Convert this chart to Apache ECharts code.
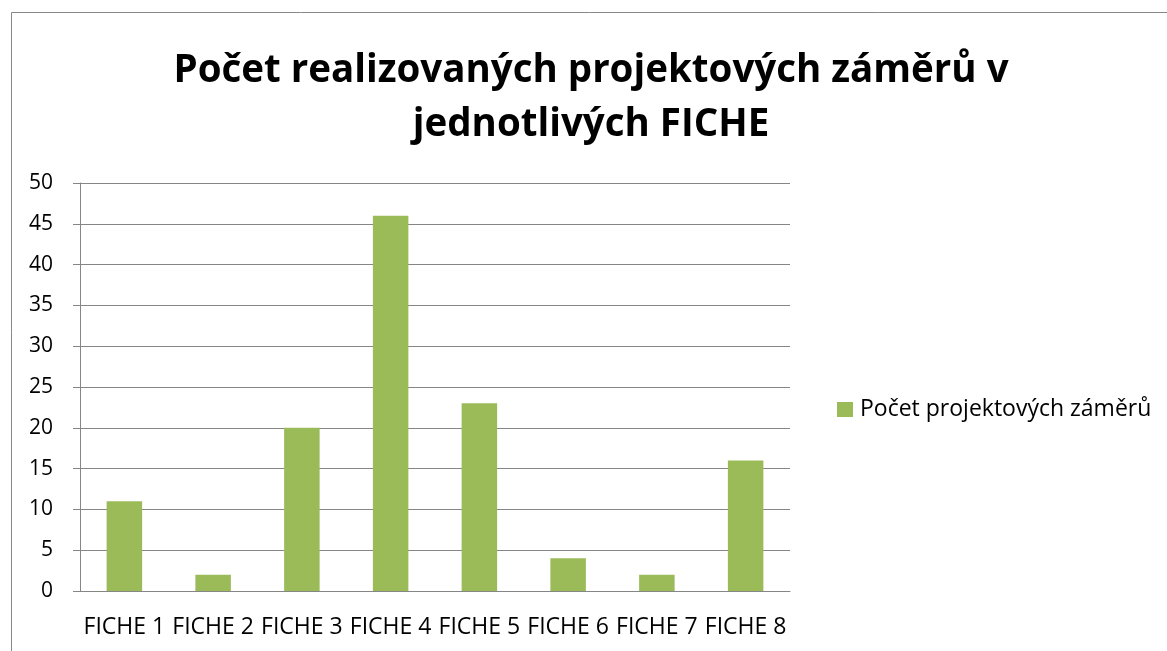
<!DOCTYPE html>
<html>
<head>
<meta charset="utf-8">
<script src="https://cdn.jsdelivr.net/npm/echarts@6/dist/echarts.min.js"></script>
<style>
  html, body { margin: 0; padding: 0; background: #fff; }
  #chart { width: 1167px; height: 651px; }
</style>
</head>
<body>
<div id="chart"></div>
<script>
// data
const categories = ['FICHE 1', 'FICHE 2', 'FICHE 3', 'FICHE 4', 'FICHE 5', 'FICHE 6', 'FICHE 7', 'FICHE 8']
const zamery = [11, 2, 20, 46, 23, 4, 2, 16]
const seriesName = 'Počet projektových záměrů'
const titleText = 'Počet realizovaných projektových záměrů v\njednotlivých FICHE'

const font = 'Open Sans'
const myChart = echarts.init(document.getElementById('chart'))
myChart.setOption({
  animation: false,
  backgroundColor: '#fff',
  graphic: [
    {
      type: 'rect',
      shape: { x: 11.5, y: 12.5, width: 1200, height: 700 },
      style: { fill: 'none', stroke: '#888', lineWidth: 1 }
    }
  ],
  title: {
    text: titleText,
    left: 586,
    top: 39,
    textAlign: 'center',
    textStyle: {
      fontFamily: font,
      fontWeight: 'bold',
      fontSize: 38.5,
      lineHeight: 54,
      color: '#000'
    }
  },
  legend: {
    data: [seriesName],
    left: 832,
    top: 393,
    itemWidth: 16,
    itemHeight: 15,
    icon: 'rect',
    textStyle: { fontFamily: font, fontSize: 23, color: '#000', padding: [0, 0, 0, 2] }
  },
  grid: {
    left: 80,
    right: 377,
    top: 183,
    bottom: 60
  },
  xAxis: {
    type: 'category',
    data: categories,
    axisLine: { lineStyle: { color: '#868686', width: 1 } },
    axisTick: { length: 7, lineStyle: { color: '#868686' } },
    axisLabel: { fontFamily: font, fontSize: 23, color: '#000', margin: 25, interval: 0 }
  },
  yAxis: {
    type: 'value',
    min: 0,
    max: 50,
    interval: 5,
    axisLine: { show: true, lineStyle: { color: '#868686', width: 1 } },
    axisTick: { show: true, length: 7, lineStyle: { color: '#868686' } },
    axisLabel: { fontFamily: font, fontSize: 21, color: '#000', margin: 27 },
    splitLine: { lineStyle: { color: '#868686', width: 1 } }
  },
  series: [
    {
      name: seriesName,
      type: 'bar',
      data: zamery,
      barWidth: '40%',
      itemStyle: { color: '#9BBB59' }
    }
  ]
})
</script>
</body>
</html>
